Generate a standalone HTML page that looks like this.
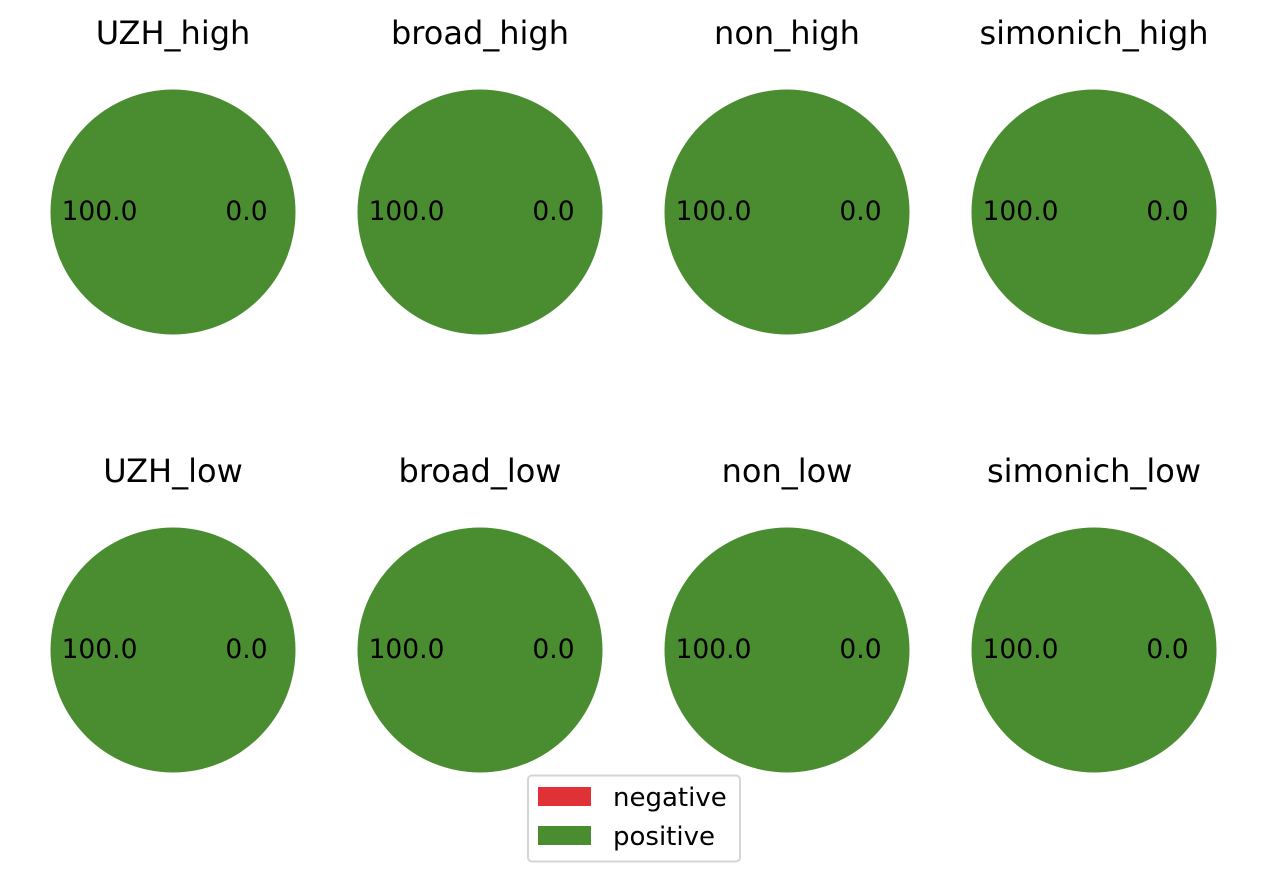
<!DOCTYPE html>
<html><head><meta charset="utf-8"><style>
body{margin:0;background:#fff;}
svg{display:block;font-family:"DejaVu Sans","Liberation Sans",sans-serif;}
</style></head><body>
<svg id="chart" width="1267" height="875"></svg>
<script>
const panelTitles=["UZH_high","broad_high","non_high","simonich_high","UZH_low","broad_low","non_low","simonich_low"];
const seriesNames=["negative","positive"];
const negativeValues=[0,0,0,0,0,0,0,0];
const positiveValues=[100,100,100,100,100,100,100,100];
const colors=["#e03236","#4a8c30"];
const NS="http://www.w3.org/2000/svg";
const svg=document.getElementById("chart");
function mk(t,a,p){const e=document.createElementNS(NS,t);for(const k in a)e.setAttribute(k,a[k]);(p||svg).appendChild(e);return e;}
const cxs=[173,480,787,1094], cys=[212,650], R=122.5;
panelTitles.forEach((title,i)=>{
  const cx=cxs[i%4], cy=cys[Math.floor(i/4)];
  const g=mk("g",{});
  
  
  const t=mk("text",{x:cx,y:cy-168,"text-anchor":"middle","font-size":"32px",fill:"#000"},g);
  t.textContent=title;
  
  
  const vals=[negativeValues[i],positiveValues[i]];
  const total=vals.reduce((a,b)=>a+b,0);
  let ang=0;
  const labels=[];
  vals.forEach((v,j)=>{
    const frac=total?v/total:0;
    const a0=ang, a1=ang+frac*2*Math.PI;
    if(frac>=0.9999){
      const c=mk("circle",{cx:cx,cy:cy,r:R,fill:colors[j]},g);
      
      
    } else if(frac>0){
      const x0=cx+R*Math.cos(a0),y0=cy-R*Math.sin(a0),x1=cx+R*Math.cos(a1),y1=cy-R*Math.sin(a1);
      const p=mk("path",{d:`M${cx},${cy}L${x0},${y0}A${R},${R} 0 ${frac>0.5?1:0} 0 ${x1},${y1}Z`,fill:colors[j]},g);
      
      
    }
    labels.push({mid:(a0+a1)/2,frac:frac});
    ang=a1;
  });
  labels.forEach(o=>{
    const lx=cx+0.6*R*Math.cos(o.mid), ly=cy-0.6*R*Math.sin(o.mid);
    const l=mk("text",{x:lx,y:ly+8,"text-anchor":"middle","font-size":"26.5px",fill:"#000"},g);
    l.textContent=(o.frac*100).toFixed(1);
    
    
  });
});
const lg=mk("g",{});


mk("rect",{x:528,y:775.5,width:212,height:86,rx:4,fill:"#fff",stroke:"#d5d5d5","stroke-width":2},lg);
seriesNames.forEach((n,j)=>{
  const y=787+j*39;
  const r=mk("rect",{x:538,y:y,width:53,height:19,fill:colors[j]},lg);
  
  
  const t=mk("text",{x:613,y:y+19,"font-size":"26px",fill:"#000"},lg);
  t.textContent=n;
  
  
});
</script>
</body></html>
